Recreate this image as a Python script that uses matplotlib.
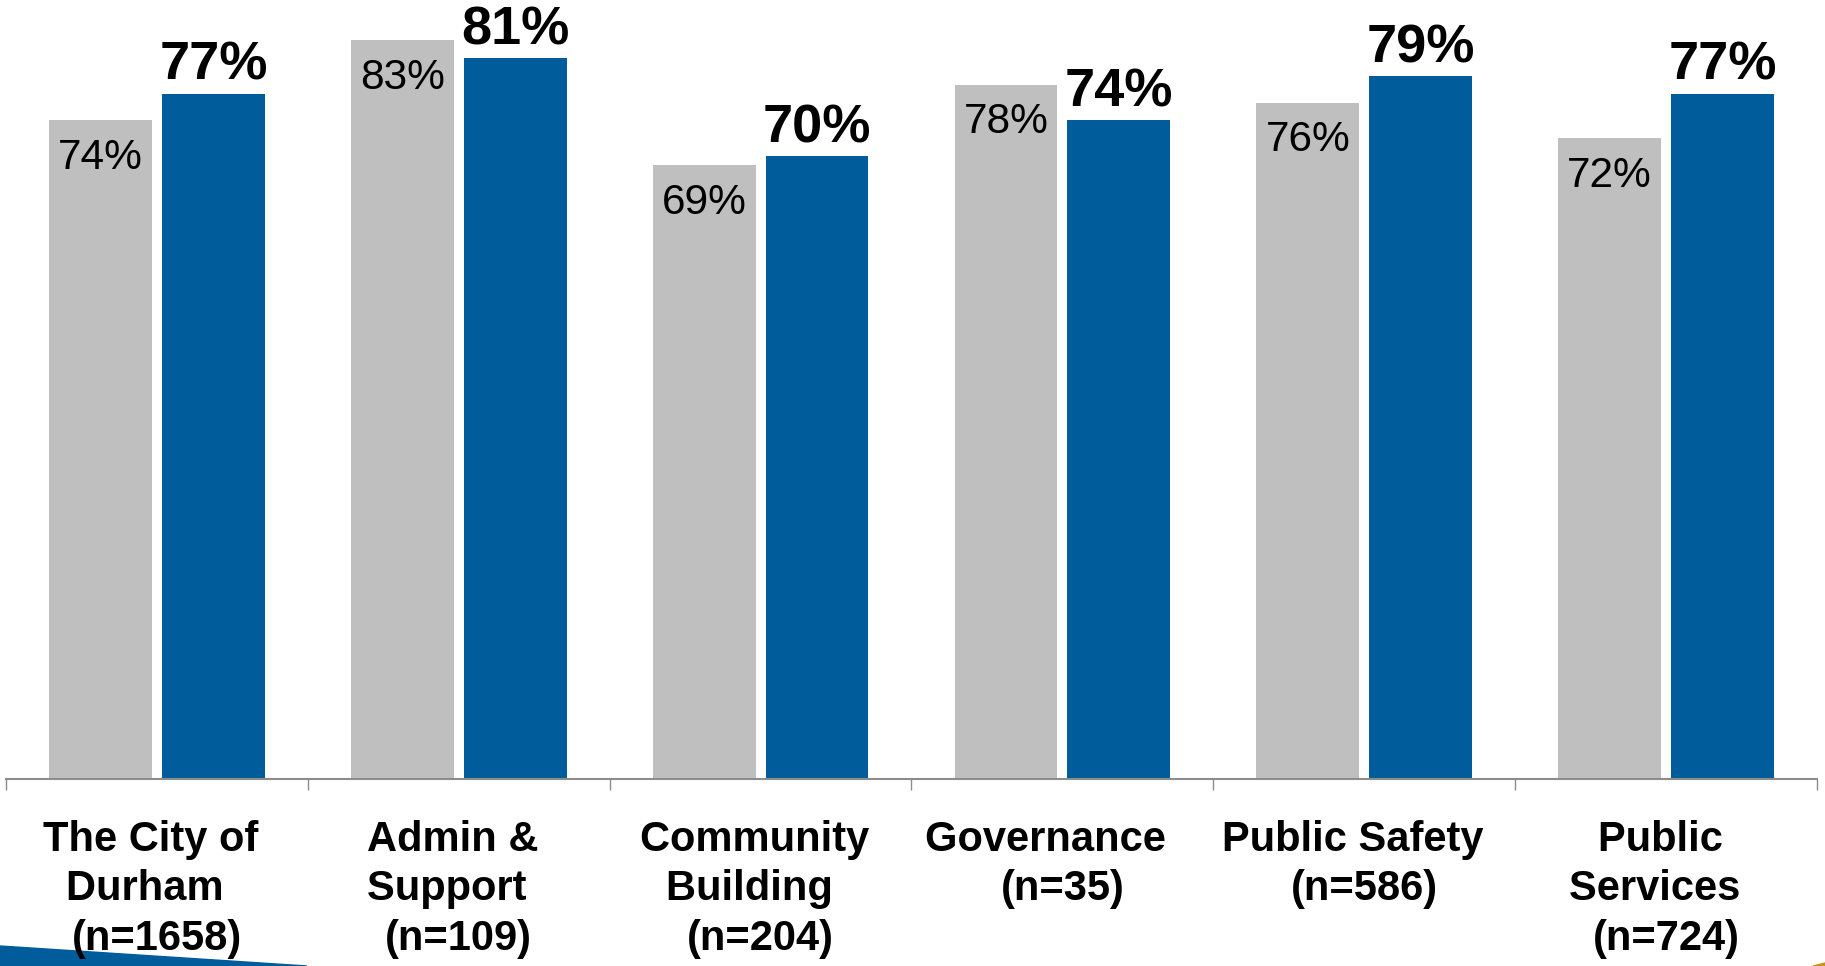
import matplotlib.pyplot as plt
from matplotlib.patches import Polygon
from matplotlib.transforms import blended_transform_factory

# Data (percent).
categories = ["The City of \nDurham  \n(n=1658)", "Admin & \nSupport  \n(n=109)",
              "Community \nBuilding  \n(n=204)", "Governance   \n(n=35)",
              "Public Safety  \n(n=586)", "Public \nServices  \n(n=724)"]
prev_vals = [74, 83, 69, 78, 76, 72]
curr_vals = [77, 81, 70, 74, 79, 77]

gray = "#BFBFBF"
blue = "#005C9A"
axis_gray = "#8C8C8C"

plt.rcParams["font.family"] = ["Liberation Sans", "DejaVu Sans"]

fig = plt.figure(figsize=(18.25, 9.66), dpi=100)
ax = fig.add_axes([6 / 1825, (966 - 779) / 966, 1811 / 1825, 769 / 966])
ax.set_facecolor("none")

x = list(range(len(categories)))
off, w = 0.187, 0.341
ax.bar([i - off for i in x], prev_vals, width=w, color=gray)
ax.bar([i + off for i in x], curr_vals, width=w, color=blue)

# Value labels: plain inside the gray bars, bold above the blue ones.
for i, v in enumerate(prev_vals):
    ax.annotate(f"{v}%", (i - off, v), xytext=(0, -35), textcoords="offset points",
                ha="center", va="baseline", fontsize=30.5)
for i, v in enumerate(curr_vals):
    ax.annotate(f"{v}%", (i + off, v), xytext=(0, 10), textcoords="offset points",
                ha="center", va="baseline", fontsize=39, fontweight="bold")

ax.set_xlim(-0.5, len(categories) - 0.5)
ax.set_ylim(0, 769 / 8.9)

# Category boundary ticks, labels drawn as text below.
ax.set_xticks([i - 0.5 for i in range(len(categories) + 1)])
ax.set_xticklabels([])
ax.tick_params(axis="x", direction="out", length=7.9, width=1.0, color=axis_gray)
ax.set_yticks([])
for s in ["top", "left", "right"]:
    ax.spines[s].set_visible(False)
ax.spines["bottom"].set_color(axis_gray)
ax.spines["bottom"].set_linewidth(1.5)

trans = blended_transform_factory(ax.transData, fig.transFigure)
for i, lab in enumerate(categories):
    ax.text(i, (966 - 820) / 966, lab, transform=trans, ha="center", va="top",
            fontsize=30, fontweight="bold", linespacing=1.3, clip_on=False, zorder=5)

# Decorative corner shapes.
fig.patches.append(Polygon([(0, 20 / 966), (307 / 1825, 0), (0, 0)], closed=True,
                           transform=fig.transFigure, color=blue, zorder=-1))
fig.patches.append(Polygon([(1813 / 1825, 0), (1, 3 / 966), (1, 0)], closed=True,
                           transform=fig.transFigure, color="#C8961E", zorder=-1))

fig.savefig("out.png", dpi=100)
